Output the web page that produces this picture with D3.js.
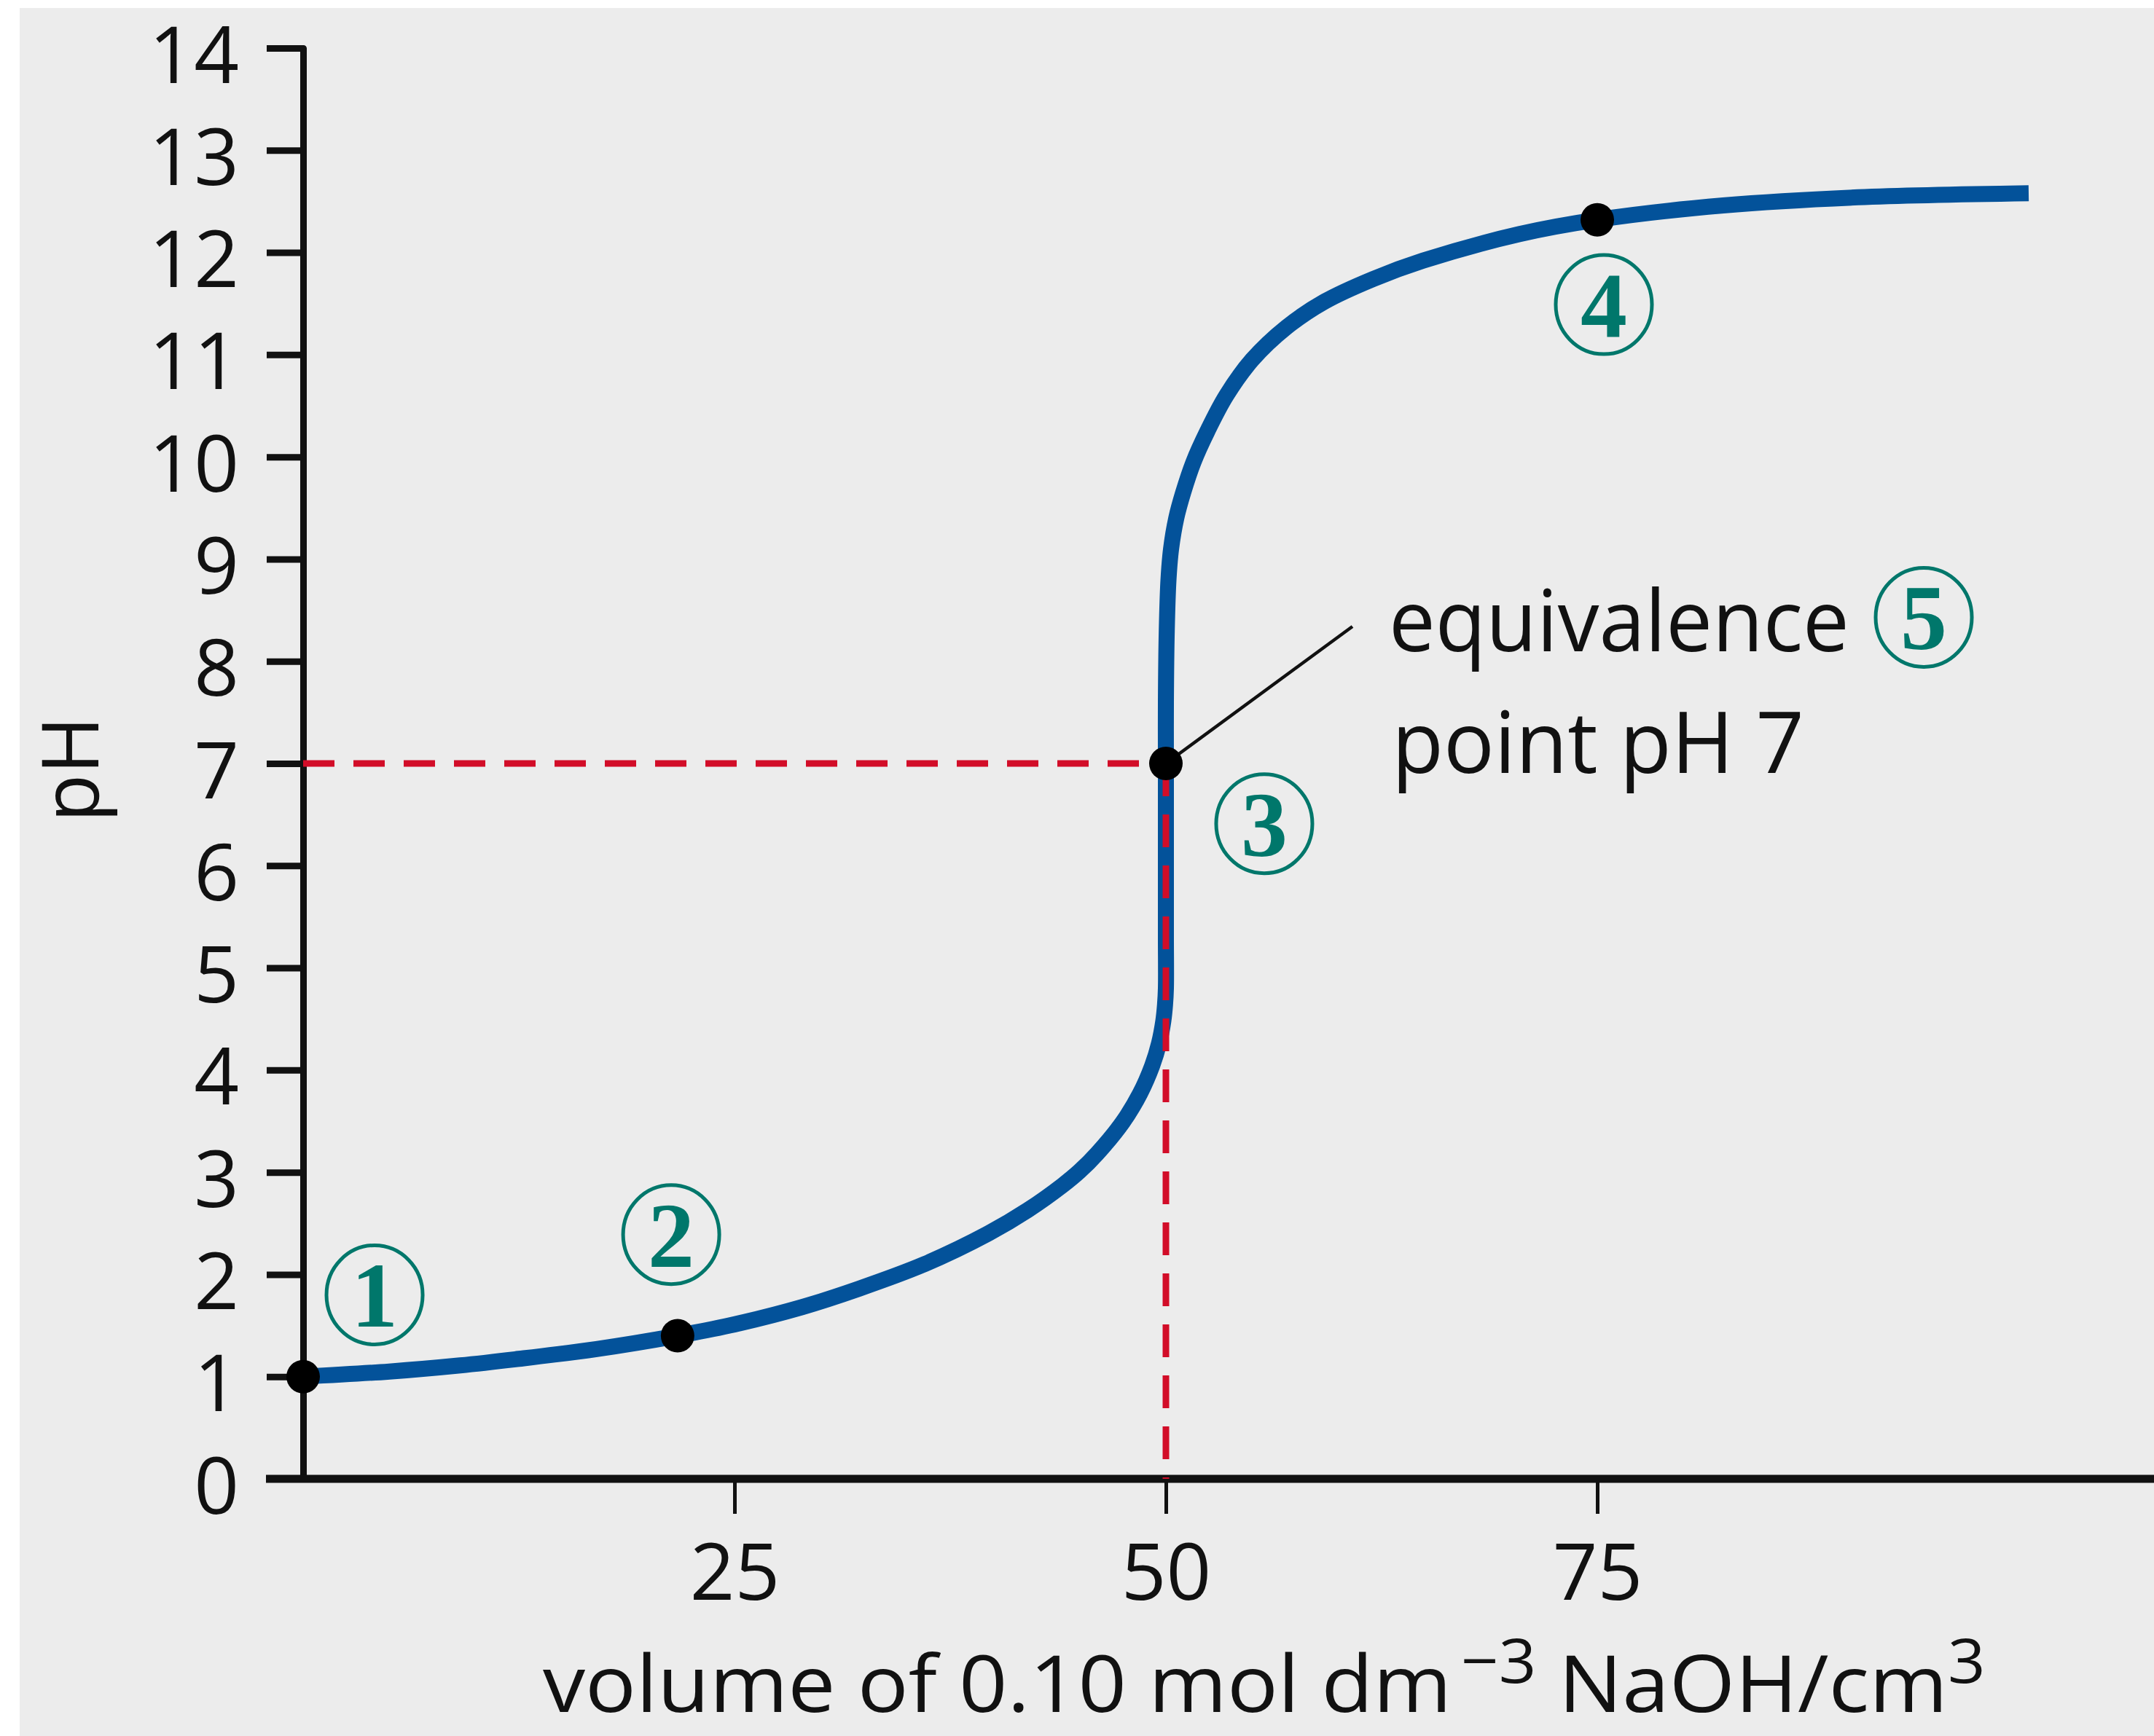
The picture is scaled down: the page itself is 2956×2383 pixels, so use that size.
<!DOCTYPE html>
<html>
<head>
<meta charset="utf-8">
<script src="https://cdn.jsdelivr.net/npm/d3@7"></script>
<style>
  body { margin: 0; background: #fff; }
  text { font-family: "Open Sans", "Noto Sans", sans-serif; fill: #111; }
  text.num { font-family: "Liberation Serif", "DejaVu Serif", serif; font-weight: bold; fill: #00776b; }
</style>
</head>
<body>
<svg id="chart"></svg>
<script>
// titration curve (volume in cm3, pH)
const volume = [0, 5, 9.1, 12.3, 17, 21.7, 24.7, 28.9, 32.2, 36, 39.7, 42, 44, 45, 46, 47.5, 48.5, 49.2, 49.6,
                49.85, 49.95, 50, 50, 50, 50, 50, 50.05, 50.15, 50.3, 50.6, 51, 51.6, 52.4, 53.5, 55, 57,
                59.2, 62, 64.9, 70.5, 75, 82.3, 90.1, 100]
const pH     = [1.0, 1.05, 1.11, 1.17, 1.27, 1.40, 1.50, 1.68, 1.86, 2.10, 2.40, 2.63, 2.87, 3.01, 3.18, 3.49, 3.77, 4.04, 4.26,
                4.48, 4.64, 4.80, 5.3, 6.0, 7.0, 7.6, 8.3, 8.8, 9.1, 9.4, 9.65, 9.95, 10.25, 10.6, 10.95, 11.27,
                11.52, 11.74, 11.92, 12.18, 12.32, 12.46, 12.54, 12.58]

// black marked points on the curve
const markVolume = [0, 21.7, 50, 75]
const markPH     = [1.0, 1.40, 7.0, 12.32]

// circled numbers and where they sit (data units)
const labelText   = ["1", "2", "3", "4", "5"]
const labelVolume = [4.14, 21.33, 55.7, 75.38, 93.92]
const labelPH     = [1.80, 2.39, 6.41, 11.49, 8.43]

const equivalencePH = 7
const equivalenceVolume = 50

const xTicks = [25, 50, 75]
const yTicks = [0, 1, 2, 3, 4, 5, 6, 7, 8, 9, 10, 11, 12, 13, 14]

const W = 2956, H = 2383
const BLUE = "#03529a", RED = "#d20d28", TEAL = "#00776b", INK = "#111"

const x = d3.scaleLinear().domain([0, 100]).range([416, 2784])
const y = d3.scaleLinear().domain([0, 14]).range([2030, 66])

const svg = d3.select("#chart").attr("width", W).attr("height", H)

svg.append("rect")
  .attr("x", 27).attr("y", 11)
  .attr("width", W - 27).attr("height", H - 11)
  .attr("fill", "#ececec")

// y axis
const yAxis = svg.append("g")
  .attr("transform", `translate(${x(0)},0)`)
  .call(d3.axisLeft(y).tickValues(yTicks).tickSize(50).tickPadding(38))
  .attr("font-size", 108)
yAxis.select(".domain")
  .attr("stroke", INK).attr("stroke-width", 9)
  .attr("stroke-linejoin", "round")
yAxis.selectAll(".tick line").attr("stroke", INK).attr("stroke-width", 9)
yAxis.selectAll(".tick text").attr("dy", null).attr("y", 47)

// x axis
const xAxis = svg.append("g")
  .attr("transform", `translate(0,${y(0)})`)
  .call(d3.axisBottom(x).tickValues(xTicks).tickSize(48))
  .attr("font-size", 108)
xAxis.select(".domain").remove()
xAxis.selectAll(".tick line").attr("stroke", INK).attr("stroke-width", 5)
xAxis.selectAll(".tick text").attr("dy", null).attr("y", 166)

svg.append("line")
  .attr("x1", 365).attr("x2", W)
  .attr("y1", y(0)).attr("y2", y(0))
  .attr("stroke", INK).attr("stroke-width", 11)

// axis titles
svg.append("text")
  .attr("transform", "translate(135,1056) rotate(-90)")
  .attr("text-anchor", "middle")
  .attr("font-size", 108)
  .text("pH")

const title = svg.append("text")
  .attr("font-size", 108)
title.append("tspan").text("volume of 0.10 mol dm")
title.append("tspan").attr("font-size", 84).attr("dx", 12).attr("dy", -40).text("\u22123")
title.append("tspan").attr("dy", 40).text(" NaOH/cm")
title.append("tspan").attr("font-size", 84).attr("dy", -40).text("3")
fitWidth(title, 745, 2350, 1967)

// the curve
const line = d3.line()
  .x(d => x(d[0]))
  .y(d => y(d[1]))
  .curve(d3.curveCatmullRom.alpha(0.5))

svg.append("path")
  .datum(d3.zip(volume, pH))
  .attr("d", line)
  .attr("fill", "none")
  .attr("stroke", BLUE)
  .attr("stroke-width", 22)

// dashed guides at the equivalence point
svg.append("line")
  .attr("x1", x(0)).attr("x2", x(equivalenceVolume))
  .attr("y1", y(equivalencePH)).attr("y2", y(equivalencePH))
  .attr("stroke", RED).attr("stroke-width", 9)
  .attr("stroke-dasharray", "43,26")
svg.append("line")
  .attr("x1", x(equivalenceVolume)).attr("x2", x(equivalenceVolume))
  .attr("y1", y(equivalencePH)).attr("y2", y(0))
  .attr("stroke", RED).attr("stroke-width", 9)
  .attr("stroke-dasharray", "45,25")

// leader line to the note
svg.append("line")
  .attr("x1", x(equivalenceVolume)).attr("y1", y(equivalencePH))
  .attr("x2", x(60.81)).attr("y2", y(8.34))
  .attr("stroke", INK).attr("stroke-width", 4.5)

svg.selectAll("circle.mark")
  .data(d3.zip(markVolume, markPH))
  .enter().append("circle")
  .attr("class", "mark")
  .attr("cx", d => x(d[0]))
  .attr("cy", d => y(d[1]))
  .attr("r", 23)
  .attr("fill", "#000")

// note text
const note1 = svg.append("text")
  .attr("font-size", 118)
  .text("equivalence")
fitWidth(note1, x(62.92), y(8.10), 632)
const note2 = svg.append("text")
  .attr("font-size", 118)
  .text("point pH 7")
fitWidth(note2, x(63.09), y(6.91), 566)

// circled numbers
const labels = svg.selectAll("g.label")
  .data(d3.zip(labelText, labelVolume, labelPH))
  .enter().append("g")
  .attr("class", "label")
  .attr("transform", d => `translate(${x(d[1])},${y(d[2])})`)
labels.append("ellipse")
  .attr("rx", 66).attr("ry", 68)
  .attr("fill", "none")
  .attr("stroke", TEAL).attr("stroke-width", 5)
labels.append("text")
  .attr("class", "num")
  .attr("text-anchor", "middle")
  .attr("y", 44)
  .attr("font-size", 128)
  .text(d => d[0])

function fitWidth(sel, x0, y0, target) {
  const w = sel.node().getComputedTextLength()
  sel.attr("transform", `translate(${x0},${y0}) scale(${target / w},1)`)
}
</script>
</body>
</html>
